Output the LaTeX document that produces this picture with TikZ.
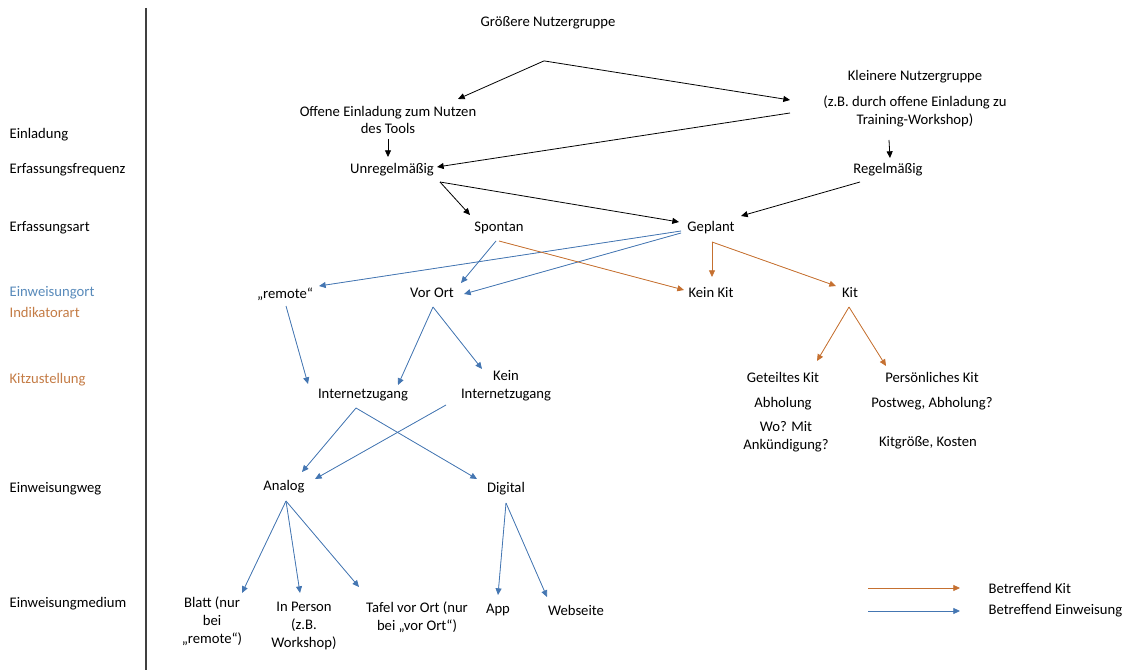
\documentclass[tikz,border=0pt]{standalone}
\usepackage{fontspec}
\setmainfont{Carlito}
\usetikzlibrary{arrows.meta,calc}
\definecolor{kitorange}{RGB}{197,112,48}
\definecolor{einblue}{RGB}{68,118,178}
\definecolor{lblblue}{RGB}{88,138,186}
\definecolor{lblorange}{RGB}{196,124,70}

\begin{document}
\begin{tikzpicture}[x=0.75pt,y=-0.75pt,
		txt/.style={inner sep=1pt, font=\fontsize{11}{13.4}\selectfont, align=center},
		lvl/.style={txt, anchor=west},
		blk/.style={-{Triangle[length=5pt,width=4.5pt]}, line width=0.6pt, draw=black},
		kit/.style={blk, draw=kitorange, fill=kitorange},
		ein/.style={blk, draw=einblue, fill=einblue}]
	\useasboundingbox (0,0) rectangle (1132,670);
	\draw [line width=0.8pt, black!75] (146,8) -- (146,670);

	% Ebenen
	\node [lvl] (einladung) at (8,135) {Einladung};
	\node [lvl] (frequenz) at (8,170) {Erfassungsfrequenz};
	\node [lvl] (erfart) at (8,228) {Erfassungsart};
	\node [lvl, text=lblblue] (einort) at (8,293) {Einweisungort};
	\node [lvl, text=lblorange] (indart) at (8,312) {Indikatorart};
	\node [lvl, text=lblorange] (zustellung) at (8,380) {Kitzustellung};
	\node [lvl] (einweg) at (8,489) {Einweisungweg};
	\node [lvl] (einmedium) at (8,604) {Einweisungmedium};

	% Knoten
	\node [txt] (gross) at (548,23) {Größere Nutzergruppe};
	\node [txt] (offene) at (388,120) {Offene Einladung zum Nutzen\\des Tools};
	\node [txt, anchor=north] (kleiner) at (915,69) {Kleinere Nutzergruppe\\[6pt](z.B. durch offene Einladung zu\\Training-Workshop)};
	\node [txt] (unreg) at (392,170) {Unregelmäßig};
	\node [txt] (regel) at (888,170) {Regelmäßig};
	\node [txt] (spontan) at (499,228) {Spontan};
	\node [txt] (geplant) at (711,228) {Geplant};
	\node [txt] (remote) at (285,294) {„remote“};
	\node [txt] (vorort) at (432,293) {Vor Ort};
	\node [txt] (keinkit) at (711,293) {Kein Kit};
	\node [txt] (kit) at (850,293) {Kit};
	\node [txt] (inet) at (363,395) {Internetzugang};
	\node [txt] (keininet) at (506,386) {Kein\\Internetzugang};
	\node [txt] (geteilt) at (783,377) {Geteiltes Kit};
	\node [txt] (abhol) at (783,404) {Abholung};
	\node [txt] (wo) at (786,437) {Wo? Mit\\Ankündigung?};
	\node [txt] (persoenl) at (932,377) {Persönliches Kit};
	\node [txt] (postweg) at (932,404) {Postweg, Abholung?};
	\node [txt] (groesse) at (928,443) {Kitgröße, Kosten};
	\node [txt] (analog) at (284,487) {Analog};
	\node [txt] (digital) at (506,489) {Digital};
	\node [txt] (blatt) at (212,621) {Blatt (nur\\bei\\„remote“)};
	\node [txt] (person) at (304,626) {In Person\\(z.B.\\Workshop)};
	\node [txt] (tafel) at (417,617) {Tafel vor Ort (nur\\bei „vor Ort“)};
	\node [txt] (app) at (498,610) {App};
	\node [txt] (web) at (576,610) {Webseite};
	\node [lvl] (legkit) at (987,588) {Betreffend Kit};
	\node [lvl] (legein) at (987,611) {Betreffend Einweisung};

	% Einladung und Erfassung
	\coordinate (split) at ($(gross.south)+(-4,30)$);
	\draw [blk] (split) -- ($(offene)+(70,-21)$);
	\draw [blk] (split) -- ($(kleiner.north)+(-125,31)$);
	\draw [blk] ($(kleiner.north)+(-125,44)$) -- ($(unreg)+(45,-3)$);
	\draw [blk] ($(offene)+(0,19)$) -- ($(unreg)+(-4,-13)$);
	\draw [blk] ($(kleiner.north)+(-26,71)$) -- ($(regel)+(2,-12)$);
	\draw [blk] ($(unreg)+(48,12)$) -- ($(spontan)+(-29,-13)$);
	\draw [blk] ($(unreg)+(48,12)$) -- ($(geplant)+(-32,-6)$);
	\draw [blk] ($(regel)+(-28,12)$) -- ($(geplant)+(30,-12)$);

	% Einweisung
	\draw [ein] ($(geplant)+(-30,3)$) -- ($(remote)+(34,-8)$);
	\draw [ein] ($(geplant)+(-30,5)$) -- ($(vorort)+(32,1)$);
	\draw [ein] ($(spontan)+(-3,13)$) -- ($(vorort)+(29,-10)$);
	\draw [ein] ($(remote)+(1,12)$) -- ($(inet)+(-55,-11)$);
	\draw [ein] ($(vorort)+(1,14)$) -- ($(inet)+(35,-10)$);
	\draw [ein] ($(vorort)+(1,14)$) -- ($(keininet)+(-24,-17)$);
	\draw [ein] ($(inet)+(-7,13)$) -- ($(analog)+(18,-15)$);
	\draw [ein] ($(inet)+(-7,13)$) -- ($(digital)+(-29,-10)$);
	\draw [ein] ($(keininet)+(-60,19)$) -- ($(analog)+(31,-8)$);
	\draw [ein] ($(analog)+(2,14)$) -- ($(blatt)+(30,-28)$);
	\draw [ein] ($(analog)+(2,14)$) -- ($(person)+(-4,-33)$);
	\draw [ein] ($(analog)+(2,14)$) -- ($(tafel)+(-58,-30)$);
	\draw [ein] ($(digital)+(0,14)$) -- ($(app)+(0,-15)$);
	\draw [ein] ($(digital)+(0,14)$) -- ($(web)+(-29,-13)$);

	% Kit
	\draw [kit] ($(spontan)+(0,13)$) -- ($(keinkit)+(-27,-3)$);
	\draw [kit] ($(geplant)+(1,14)$) -- ($(keinkit)+(1,-16)$);
	\draw [kit] ($(geplant)+(1,14)$) -- ($(kit)+(-14,-7)$);
	\draw [kit] ($(kit)+(-1,14)$) -- ($(geteilt)+(34,-16)$);
	\draw [kit] ($(kit)+(-1,14)$) -- ($(persoenl)+(-46,-11)$);

	% Legende
	\draw [kit] ($(legkit.west)+(-119,0)$) -- ($(legkit.west)+(-27,0)$);
	\draw [ein] ($(legein.west)+(-119,0)$) -- ($(legein.west)+(-27,0)$);
\end{tikzpicture}
\end{document}
